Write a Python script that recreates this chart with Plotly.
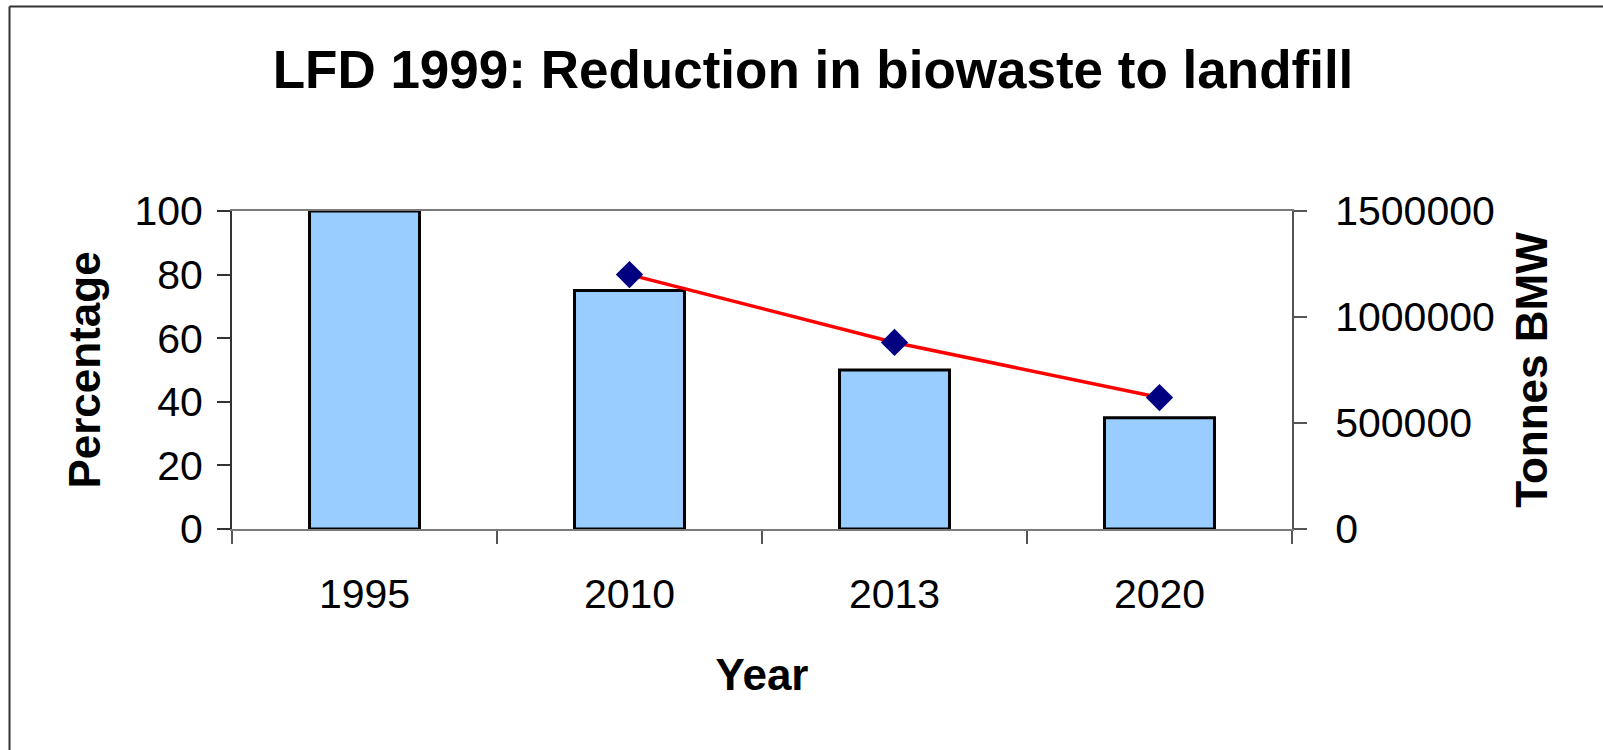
import plotly.graph_objects as go

years = ["1995", "2010", "2013", "2020"]
percentage = [100, 75, 50, 35]
line_years = ["2010", "2013", "2020"]
tonnes_bmw = [1200000, 880000, 620000]

title_text = "LFD 1999: Reduction in biowaste to landfill"
y_title = "Percentage"
y2_title = "Tonnes BMW"
x_title = "Year"

W, H = 1603, 750
L, R, T, B = 232, 311, 211, 221
pw, ph = W - L - R, H - T - B

font = "Liberation Sans, Arial, sans-serif"

fig = go.Figure()
fig.add_trace(go.Bar(
    x=years, y=percentage, xaxis="x", yaxis="y",
    marker=dict(color="#99CCFF", line=dict(color="#000000", width=3)),
    showlegend=False,
))
fig.add_trace(go.Scatter(
    x=line_years, y=tonnes_bmw, xaxis="x", yaxis="y2",
    mode="lines+markers",
    line=dict(color="#FF0000", width=3.5),
    marker=dict(symbol="diamond", color="#000080", size=21,
                line=dict(width=0)),
    showlegend=False,
))

boundaries = [i - 0.5 for i in range(len(years) + 1)]

tick_font = dict(family=font, size=41, color="#000000")
title_font = dict(family=font, size=44, color="#000000")

fig.update_layout(
    width=W, height=H,
    margin=dict(l=L, r=R, t=T, b=B, pad=0),
    paper_bgcolor="white", plot_bgcolor="white",
    bargap=0.585,
    title=dict(text="<b>" + title_text + "</b>",
               font=dict(family=font, size=53, color="#000000"),
               x=813 / W, xanchor="center", xref="container",
               y=1 - 69 / H, yanchor="middle", yref="container"),
    xaxis=dict(
        type="category", categoryorder="array", categoryarray=years,
        range=[-0.5, len(years) - 0.5],
        showline=True, linecolor="#7a7a7a", linewidth=2, mirror=True,
        ticks="outside", ticklen=13, tickwidth=1.5, tickcolor="#555555",
        tickson="boundaries",
        showgrid=False, zeroline=False,
        tickfont=tick_font, ticklabelstandoff=28,
        title=dict(text="<b>" + x_title + "</b>", font=title_font, standoff=43),
    ),
    xaxis2=dict(
        overlaying="x", anchor="y", side="bottom", type="linear",
        range=[-0.5, len(years) - 0.5],
        tickvals=boundaries, ticks="inside", ticklen=13, tickwidth=1.5,
        tickcolor="#555555", showticklabels=False, showgrid=False,
        zeroline=False, showline=False,
    ),
    yaxis=dict(
        range=[0, 100], dtick=20,
        showline=True, linecolor="#333333", linewidth=2,
        ticks="outside", ticklen=13, tickwidth=1.5, tickcolor="#333333",
        showgrid=False, zeroline=False,
        tickfont=tick_font, ticklabelstandoff=6,
        title=dict(text="<b>" + y_title + "</b>", font=title_font, standoff=20),
    ),
    yaxis3=dict(
        overlaying="y", anchor="x", side="left",
        range=[0, 100], dtick=20, ticks="inside", ticklen=13, tickwidth=1.5,
        tickcolor="#333333", showticklabels=False, showgrid=False,
        zeroline=False, showline=False,
    ),
    yaxis2=dict(
        overlaying="y", side="right", anchor="x",
        range=[0, 1500000], dtick=500000,
        showline=True, linecolor="#555555", linewidth=2,
        ticks="outside", ticklen=13, tickwidth=1.5, tickcolor="#555555",
        showgrid=False, zeroline=False,
        tickfont=tick_font, ticklabelstandoff=20, tickformat="d",
        title=dict(text="<b>" + y2_title + "</b>", font=title_font, standoff=22),
    ),
    yaxis4=dict(
        overlaying="y", side="right", anchor="x",
        range=[0, 1500000], dtick=500000, ticks="inside", ticklen=13,
        tickwidth=1.5, tickcolor="#555555", showticklabels=False,
        showgrid=False, zeroline=False, showline=False,
    ),
    shapes=[
        dict(type="line", xref="paper", yref="paper", layer="below",
             x0=(9.5 - L) / pw, x1=(W - L) / pw,
             y0=(H - B - 6.5) / ph, y1=(H - B - 6.5) / ph,
             line=dict(color="#333333", width=2)),
        dict(type="line", xref="paper", yref="paper", layer="below",
             x0=(9.5 - L) / pw, x1=(9.5 - L) / pw,
             y0=-B / ph, y1=(H - B - 6.5) / ph,
             line=dict(color="#333333", width=2)),
    ],
)

fig.write_html("out.html")
